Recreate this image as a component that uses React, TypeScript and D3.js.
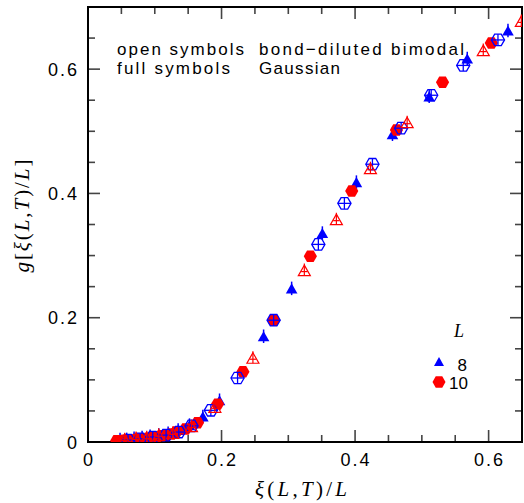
import React from "react";
import * as d3 from "d3";

// Gaussian L=8 (full blue triangles)
const gauss8X = [0.048, 0.058, 0.069, 0.081, 0.093, 0.106, 0.120, 0.135, 0.152, 0.172, 0.197, 0.263, 0.305, 0.351, 0.402, 0.456, 0.511, 0.568, 0.629];
const gauss8Y = [0.003, 0.003, 0.005, 0.006, 0.008, 0.010, 0.013, 0.018, 0.026, 0.040, 0.066, 0.169, 0.246, 0.335, 0.417, 0.494, 0.555, 0.616, 0.661];
// Gaussian L=10 (full red hexagons)
const gauss10X = [0.043, 0.047, 0.051, 0.055, 0.058, 0.062, 0.067, 0.072, 0.078, 0.084, 0.090, 0.096, 0.103, 0.110, 0.117, 0.125, 0.132, 0.146, 0.164, 0.194, 0.232, 0.278, 0.333, 0.395, 0.462, 0.531, 0.604];
const gauss10Y = [0.002, 0.002, 0.002, 0.003, 0.003, 0.003, 0.003, 0.004, 0.005, 0.005, 0.006, 0.007, 0.008, 0.010, 0.011, 0.013, 0.016, 0.021, 0.031, 0.061, 0.113, 0.196, 0.299, 0.404, 0.502, 0.579, 0.642];
// bond-diluted bimodal (open blue hexagons)
const bimodHexX = [0.060, 0.078, 0.097, 0.117, 0.136, 0.155, 0.184, 0.224, 0.278, 0.345, 0.384, 0.426, 0.469, 0.514, 0.562, 0.614];
const bimodHexY = [0.003, 0.005, 0.008, 0.011, 0.016, 0.026, 0.051, 0.103, 0.196, 0.318, 0.384, 0.447, 0.505, 0.558, 0.606, 0.647];
// bond-diluted bimodal (open red triangles)
const bimodTriX = [0.055, 0.072, 0.088, 0.106, 0.127, 0.155, 0.190, 0.247, 0.324, 0.372, 0.423, 0.478, 0.592, 0.649];
const bimodTriY = [0.003, 0.005, 0.006, 0.010, 0.013, 0.024, 0.055, 0.134, 0.275, 0.357, 0.439, 0.513, 0.629, 0.676];

const xMajorTicks = [0, 0.2, 0.4, 0.6];
const xTickLabels = ["0", "0.2", "0.4", "0.6"];
const yMajorTicks = [0, 0.2, 0.4, 0.6];
const yTickLabels = ["0", "0.2", "0.4", "0.6"];
const xMinorTicks = [0.05, 0.1, 0.15, 0.25, 0.3, 0.35, 0.45, 0.5, 0.55, 0.65];
const yMinorTicks = [0.05, 0.1, 0.15, 0.25, 0.3, 0.35, 0.45, 0.5, 0.55, 0.65, 0.7];

const legendLabels = ["8", "10"];

const W = 524, H = 503;
const L = 88, R = 522, T = 7, B = 442;
const BLUE = "#0000ff";
const RED = "#ff0000";

const x = d3.scaleLinear().domain([0, 0.65]).range([L, R]);
const y = d3.scaleLinear().domain([0, 0.7]).range([B, T]);

function hexPath(r: number) {
  const pts = d3.range(6).map((i) => [r * Math.cos((i * Math.PI) / 3), r * Math.sin((i * Math.PI) / 3)] as [number, number]);
  return d3.line()(pts) + "Z";
}
const HEX = hexPath(6.6);
const TRI = "M0,-5.8L5.8,4.3L-5.8,4.3Z";
const TRI_O = "M0,-6L6,4.5L-6,4.5Z";

function FullTri({ cx, cy }: { cx: number; cy: number }) {
  return (
    <g transform={`translate(${cx},${cy})`}>
      <line x1={0} x2={0} y1={-7.5} y2={6} stroke={BLUE} strokeWidth={1.5} />
      <path d={TRI} fill={BLUE} />
    </g>
  );
}
function FullHex({ cx, cy }: { cx: number; cy: number }) {
  return <path transform={`translate(${cx},${cy})`} d={HEX} fill={RED} />;
}
function OpenHex({ cx, cy }: { cx: number; cy: number }) {
  return (
    <g transform={`translate(${cx},${cy})`} stroke={BLUE} strokeWidth={1.3} fill="none">
      <path d={HEX} />
      <line x1={-6.6} x2={6.6} y1={0} y2={0} />
      <line x1={0} x2={0} y1={-5.7} y2={5.7} />
    </g>
  );
}
function OpenTri({ cx, cy }: { cx: number; cy: number }) {
  return (
    <g transform={`translate(${cx},${cy})`} stroke={RED} strokeWidth={1.2} fill="none">
      <path d={TRI_O} />
      <line x1={0} x2={0} y1={-7.5} y2={4.5} />
      <line x1={-3.2} x2={3.2} y1={0.5} y2={0.5} />
    </g>
  );
}

export default function App() {
  const tickStroke = "#444";
  return (
    <svg width={W} height={H} style={{ position: "absolute", left: 0, top: 0, background: "#fff" }}>
      <defs>
        <clipPath id="plotclip">
          <rect x={L} y={T} width={R - L} height={B - T} />
        </clipPath>
      </defs>
      <rect x={0} y={0} width={W} height={H} fill="#fff" />

      {/* ticks */}
      <g stroke={tickStroke} strokeWidth={1.6}>
        {xMajorTicks.map((t) => (
          <g key={"xM" + t}>
            <line x1={x(t)} x2={x(t)} y1={B} y2={B - 12} />
            <line x1={x(t)} x2={x(t)} y1={T} y2={T + 12} />
          </g>
        ))}
        {xMinorTicks.map((t) => (
          <g key={"xm" + t}>
            <line x1={x(t)} x2={x(t)} y1={B} y2={B - 7} />
            <line x1={x(t)} x2={x(t)} y1={T} y2={T + 7} />
          </g>
        ))}
        {yMajorTicks.map((t) => (
          <g key={"yM" + t}>
            <line x1={L} x2={L + 12} y1={y(t)} y2={y(t)} />
            <line x1={R} x2={R - 12} y1={y(t)} y2={y(t)} />
          </g>
        ))}
        {yMinorTicks.map((t) => (
          <g key={"ym" + t}>
            <line x1={L} x2={L + 7} y1={y(t)} y2={y(t)} />
            <line x1={R} x2={R - 7} y1={y(t)} y2={y(t)} />
          </g>
        ))}
      </g>

      {/* frame */}
      <rect x={L} y={T} width={R - L} height={B - T} fill="none" stroke="#000" strokeWidth={2} />

      {/* tick labels */}
      <g fontFamily="'Liberation Sans', Arial, sans-serif" fontSize={18} fill="#000" letterSpacing={2}>
        {xMajorTicks.map((t, i) => (
          <text key={"xl" + t} x={x(t) + 1} y={466} textAnchor="middle">
            {xTickLabels[i]}
          </text>
        ))}
        {yMajorTicks.map((t, i) => (
          <text key={"yl" + t} x={79} y={y(t) + 6.5} textAnchor="end">
            {yTickLabels[i]}
          </text>
        ))}
      </g>

      {/* axis labels */}
      <text x={301} y={496} textAnchor="middle" fontFamily="'Liberation Serif', 'DejaVu Serif', serif" fontSize={21} textLength={92} lengthAdjust="spacing">
        <tspan fontStyle="italic">ξ</tspan>(<tspan fontStyle="italic">L</tspan>,<tspan fontStyle="italic">T</tspan>)/<tspan fontStyle="italic">L</tspan>
      </text>
      <text transform="translate(29,216) rotate(-90)" textAnchor="middle" fontFamily="'Liberation Serif', 'DejaVu Serif', serif" fontSize={21} textLength={113} lengthAdjust="spacing">
        <tspan fontStyle="italic">g</tspan>[<tspan fontStyle="italic">ξ</tspan>(<tspan fontStyle="italic">L</tspan>,<tspan fontStyle="italic">T</tspan>)/<tspan fontStyle="italic">L</tspan>]
      </text>

      {/* annotation */}
      <g fontFamily="'Liberation Sans', Arial, sans-serif" fontSize={17} fill="#000">
        <text x={117} y={55} textLength={127} lengthAdjust="spacing">open symbols</text>
        <text x={259} y={55} textLength={205} lengthAdjust="spacing">bond−diluted bimodal</text>
        <text x={117} y={74} textLength={113} lengthAdjust="spacing">full symbols</text>
        <text x={259} y={74} textLength={81} lengthAdjust="spacing">Gaussian</text>
      </g>

      {/* legend */}
      <text x={459} y={337} textAnchor="middle" fontFamily="'Liberation Serif', serif" fontStyle="italic" fontSize={18}>L</text>
      <path transform="translate(439,362)" d="M0,-5L5,4L-5,4Z" fill={BLUE} />
      <path transform="translate(439,382)" d={hexPath(6.5)} fill={RED} />
      <g fontFamily="'Liberation Sans', Arial, sans-serif" fontSize={17} fill="#000" textAnchor="end">
        <text x={467} y={371}>{legendLabels[0]}</text>
        <text x={468} y={389}>{legendLabels[1]}</text>
      </g>

      {/* data */}
      <g clipPath="url(#plotclip)">
        {gauss8X.map((v, i) => (
          <FullTri key={"g8" + i} cx={x(v)} cy={y(gauss8Y[i])} />
        ))}
        {gauss10X.map((v, i) => (
          <FullHex key={"g10" + i} cx={x(v)} cy={y(gauss10Y[i])} />
        ))}
        {bimodHexX.map((v, i) => (
          <OpenHex key={"bh" + i} cx={x(v)} cy={y(bimodHexY[i])} />
        ))}
        {bimodTriX.map((v, i) => (
          <OpenTri key={"bt" + i} cx={x(v)} cy={y(bimodTriY[i])} />
        ))}
      </g>
    </svg>
  );
}
